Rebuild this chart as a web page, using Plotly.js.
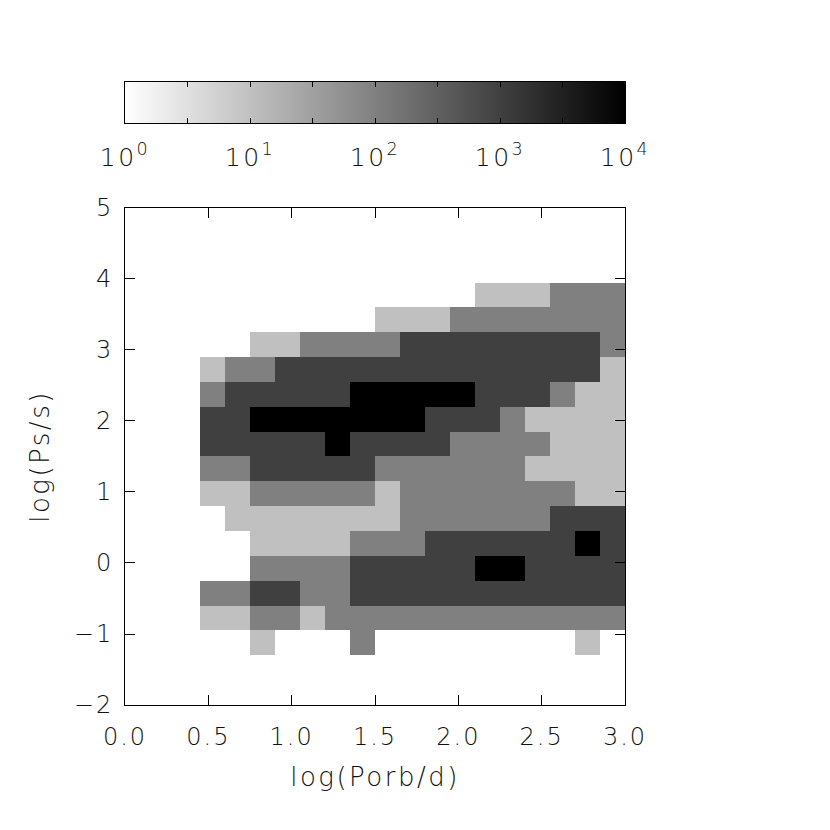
<!DOCTYPE html>
<html>
<head>
<meta charset="utf-8">
<script src="https://cdn.plot.ly/plotly-3.0.1.min.js"></script>
<style>
  html, body { margin: 0; padding: 0; background: #fff; }
  #gd { width: 830px; height: 830px; }
  /* wide, thin lettering like the original plotting package */
  #gd .xtick text, #gd .ytick text { letter-spacing: 2px; }
  #gd .x2tick text { letter-spacing: 2.5px; }
  #gd .g-xtitle text, #gd .g-ytitle text { letter-spacing: 2.5px; }
</style>
</head>
<body>
<div id="gd"></div>
<script>
// bin edges of the 2D histogram (20 x 20 cells)
var xEdges = [0.0, 0.15, 0.3, 0.45, 0.6, 0.75, 0.9, 1.05, 1.2, 1.35, 1.5,
              1.65, 1.8, 1.95, 2.1, 2.25, 2.4, 2.55, 2.7, 2.85, 3.0];
var yEdges = [-2.0, -1.65, -1.3, -0.95, -0.6, -0.25, 0.1, 0.45, 0.8, 1.15, 1.5,
              1.85, 2.2, 2.55, 2.9, 3.25, 3.6, 3.95, 4.3, 4.65, 5.0];

// log10(counts) per cell, one string per row, top row first
// '.' = empty, 1..4 = 10^1 .. 10^4
var rowsTopDown = [
  "....................",
  "....................",
  "....................",
  "..............111222",
  "..........1112222222",
  ".....112222333333332",
  "...12233333333333331",
  "...23333344444333211",
  "...33444444433321111",
  "...33333433332222111",
  "...22333332222221111",
  "...11222221222222211",
  "....1111111222222333",
  ".....111122233333343",
  ".....222233333443333",
  "...22332233333333333",
  "...11221222222222222",
  ".....1...2........1.",
  "....................",
  "...................."
];

// colour bar: log10(N) from 10^0 to 10^4
var cbRange = [0, 4];
var cbTickVals = [0, 1, 2, 3, 4];
var cbTickText = ["10<sup>0</sup>", "10<sup>1</sup>", "10<sup>2</sup>",
                  "10<sup>3</sup>", "10<sup>4</sup>"];

var z = rowsTopDown.slice().reverse().map(function (row) {
  return row.split("").map(function (c) { return c === "." ? null : Number(c); });
});

var grays = [
  [0, "#ffffff"],
  [0.25, "#c0c0c0"],
  [0.5, "#808080"],
  [0.75, "#404040"],
  [1, "#000000"]
];

var fontFam = "DejaVu Sans, Liberation Sans, sans-serif";
var tickTxt = {family: fontFam, size: 24, color: "#111", weight: 200};
var titleTxt = {family: fontFam, size: 26, color: "#111", weight: 200};
var cbTxt = {family: fontFam, size: 25, color: "#111", weight: 200};

var hist = {
  type: "heatmap",
  x: xEdges,
  y: yEdges,
  z: z,
  zmin: cbRange[0],
  zmax: cbRange[1],
  colorscale: grays,
  showscale: false,
  hoverongaps: false
};

// the colour bar itself, drawn as a smooth strip on its own axes
var bar = {
  type: "heatmap",
  xaxis: "x2",
  yaxis: "y2",
  x: cbRange,
  y: [0, 1],
  z: [cbRange, cbRange],
  zmin: cbRange[0],
  zmax: cbRange[1],
  zsmooth: "best",
  colorscale: grays,
  showscale: false,
  hoverinfo: "skip"
};

var axisCommon = {
  showline: true,
  linecolor: "#000",
  linewidth: 1,
  mirror: "ticks",
  ticks: "inside",
  ticklen: 10,
  tickcolor: "#000",
  showgrid: false,
  zeroline: false,
  tickfont: tickTxt
};

var layout = {
  width: 830,
  height: 830,
  paper_bgcolor: "#fff",
  plot_bgcolor: "#fff",
  showlegend: false,
  margin: {l: 125, r: 205, t: 82, b: 125},
  font: tickTxt,
  xaxis: Object.assign({}, axisCommon, {
    domain: [0, 1],
    anchor: "y",
    range: [0, 3],
    tickmode: "linear",
    tick0: 0,
    dtick: 0.5,
    tickformat: ".1f",
    ticklabelstandoff: 10,
    title: {text: "log(Porb/d)", font: titleTxt, standoff: 18}
  }),
  yaxis: Object.assign({}, axisCommon, {
    domain: [0, 0.7978],
    anchor: "x",
    range: [-2, 5],
    tickmode: "linear",
    tick0: 0,
    dtick: 1,
    ticklabelstandoff: 6,
    title: {text: "log(Ps/s)", font: titleTxt, standoff: 20}
  }),
  xaxis2: {
    domain: [0, 1],
    anchor: "y2",
    range: cbRange,
    showline: true,
    linecolor: "#000",
    linewidth: 1,
    mirror: "ticks",
    ticks: "inside",
    ticklen: 5,
    tickcolor: "#000",
    tickmode: "array",
    tickvals: cbTickVals,
    ticktext: cbTickText,
    tickfont: cbTxt,
    ticklabelstandoff: 12,
    minor: {dtick: 0.5, tick0: 0, ticks: "inside", ticklen: 5, tickcolor: "#000"},
    showgrid: false,
    zeroline: false
  },
  yaxis2: {
    domain: [0.9342, 1],
    anchor: "x2",
    range: [0, 1],
    showline: true,
    linecolor: "#000",
    linewidth: 1,
    mirror: true,
    ticks: "",
    showticklabels: false,
    showgrid: false,
    zeroline: false
  }
};

var config = {staticPlot: true, displayModeBar: false};

Plotly.newPlot("gd", [hist, bar], layout, config);
</script>
</body>
</html>
